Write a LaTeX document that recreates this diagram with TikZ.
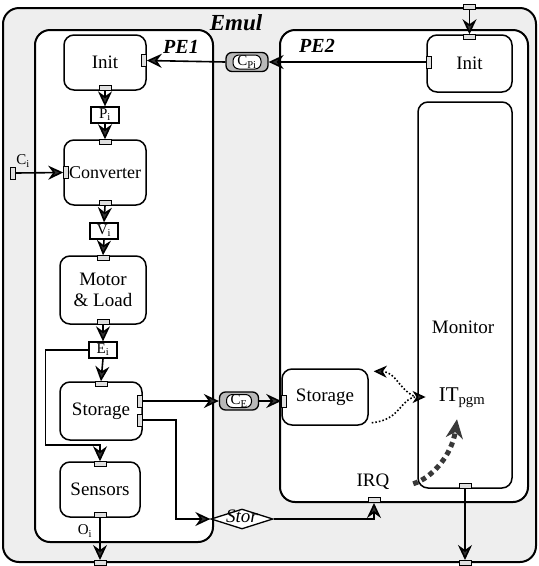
\documentclass[tikz,border=0pt]{standalone}
\usepackage{fontspec}
\setmainfont{Liberation Serif}
\usetikzlibrary{arrows.meta, positioning, shapes.geometric, calc}
\newcommand{\blkfont}{\rmfamily\fontsize{19}{21}\selectfont}
\newcommand{\sigfont}{\rmfamily\fontsize{15}{17}\selectfont}
\tikzset{
  emulbox/.style={rectangle, draw, line width=2pt, rounded corners=16pt, fill=gray!13},
  pe/.style={rectangle, draw, line width=2pt, rounded corners=15pt, fill=white},
  blk/.style={rectangle, draw, line width=1.5pt, rounded corners=10pt, fill=white,
              align=center, font=\blkfont, inner sep=0pt},
  txt/.style={font=\blkfont, inner sep=1pt},
  lbl/.style={font=\rmfamily\bfseries\itshape\fontsize{20}{22}\selectfont, inner sep=0pt},
  port/.style={rectangle, draw, line width=1pt, fill=gray!25, inner sep=0pt,
               minimum width=12pt, minimum height=5pt},
  vport/.style={port, minimum width=5pt, minimum height=12pt},
  sig/.style={rectangle, draw, line width=1.3pt, fill=white, inner sep=1pt,
              minimum width=28pt, minimum height=16pt, font=\sigfont},
  chan/.style={rectangle, draw, line width=1.3pt, rounded corners=6pt, fill=gray!55,
               inner sep=0pt, font=\sigfont,
               path picture={\filldraw[fill=white, line width=1pt]
                 ($(path picture bounding box.south west)+(7pt,2.5pt)$) rectangle
                 ($(path picture bounding box.north east)+(-7pt,-2.5pt)$);}},
  arr/.style={-{Stealth[length=15pt, width=14pt, inset=5pt, fill=gray!40!black]}, line width=1.6pt},
  dotarr/.style={-{Stealth[length=13pt, width=12pt, inset=4pt, fill=gray!40!black]}, line width=1.6pt,
                 dash pattern=on 1.6pt off 2pt},
  bigdot/.style={-{Stealth[length=19pt, width=17pt, inset=6pt]}, line width=5pt, gray!45!black,
                 dash pattern=on 5pt off 4pt},
}
\begin{document}
\begin{tikzpicture}[x=1pt, y=-1pt]
  \useasboundingbox (0,0) rectangle (539,566);
  \node[emulbox, minimum width=533pt, minimum height=554pt] (emul) at (269.5,285) {};
  \node[lbl, font=\rmfamily\bfseries\itshape\fontsize{23}{25}\selectfont] (emullbl) at (236,23) {Emul};

  % processing elements
  \node[pe, minimum width=178pt, minimum height=512pt] (pe1) at (124,286) {};
  \node[lbl] (pe1lbl) at (181,47) {PE1};
  \node[pe, minimum width=248pt, minimum height=472pt] (pe2) at (404,266) {};
  \node[lbl] (pe2lbl) at (317,46) {PE2};

  % PE1 blocks
  \node[blk, minimum width=82pt, minimum height=55pt] (init1) at (105,62.5) {Init};
  \node[blk, minimum width=82pt, minimum height=65pt, font=\rmfamily\fontsize{18}{20}\selectfont] (conv) at (105,172.5) {Converter};
  \node[blk, minimum width=86pt, minimum height=68pt] (motor) at (103,290) {Motor\\\& Load};
  \node[blk, minimum width=82pt, minimum height=58pt] (stor1) at (101,411) {Storage};
  \node[blk, minimum width=80pt, minimum height=55pt] (sens) at (100,489.5) {Sensors};

  \node[sig] (pi) at (105,115) {P\textsubscript{i}};
  \node[sig] (vi) at (104,231) {V\textsubscript{i}};
  \node[sig] (ei) at (103,350) {E\textsubscript{i}};

  % PE2 blocks
  \node[blk, minimum width=85pt, minimum height=57pt] (init2) at (469.5,63.5) {Init};
  \node[blk, minimum width=94pt, minimum height=386pt] (monitor) at (465,295) {};
  \node[txt] (monlbl) at ($(monitor.center)+(-2,32)$) {Monitor};
  \node[blk, minimum width=86pt, minimum height=56pt] (stor2) at (325,397) {Storage};
  \node[txt, font=\rmfamily\fontsize{21}{23}\selectfont] (itp) at (462,398) {IT\textsubscript{pgm}};
  \node[txt] (irq) at (373,482) {IRQ};

  % channels
  \node[chan, minimum width=42pt, minimum height=19pt] (cpi) at (247,62) {C\textsubscript{Pi}};
  \node[chan, minimum width=39pt, minimum height=18pt] (ce) at (239,401) {C\textsubscript{E}};
  \node[diamond, draw, line width=1.3pt, fill=white, inner sep=0pt,
        minimum width=62pt, minimum height=20pt] (stor) at (242,519)
        {\raisebox{-0.33em}[0pt][0pt]{\makebox[0pt]{\rmfamily\fontsize{19}{21}\selectfont\itshape Stor}}};

  % ports
  \node[vport, anchor=east] (init1e) at ($(init1.east)+(0,-2)$) {};
  \node[port, anchor=south] (init1s) at (init1.south) {};
  \node[port, anchor=north] (convn) at (conv.north) {};
  \node[vport, anchor=west] (convw) at (conv.west) {};
  \node[port, anchor=south] (convs) at (conv.south) {};
  \node[port, anchor=north] (motorn) at (motor.north) {};
  \node[port, anchor=south] (motors) at (motor.south) {};
  \node[port, anchor=north] (stor1n) at (stor1.north) {};
  \node[vport, anchor=east] (stor1a) at ($(stor1.east)+(0,-10)$) {};
  \node[vport, anchor=east] (stor1b) at ($(stor1.east)+(0,9)$) {};
  \node[port, anchor=north] (sensn) at (sens.north) {};
  \node[port, anchor=south] (senss) at (sens.south) {};
  \node[port, anchor=north] (init2n) at (init2.north) {};
  \node[vport, anchor=west] (init2w) at ($(init2.west)+(0,-1.5)$) {};
  \node[vport, anchor=west] (stor2w) at ($(stor2.west)+(0,4)$) {};
  \node[port, anchor=south] (monitors) at (monitor.south) {};
  \node[port, anchor=south] (irqp) at ($(pe2.south)+(-30,0)$) {};
  \node[vport] (cip) at (13,173) {};
  \node[port] (emult) at (init2n |- emul.north) {};
  \node[port] (emulo) at (senss |- emul.south) {};
  \node[port] (emulm) at (monitors |- emul.south) {};
  \node[txt, font=\sigfont] (cilbl) at (23,161) {C\textsubscript{i}};
  \node[txt, font=\sigfont] (oilbl) at (85,531) {O\textsubscript{i}};

  % data flow
  \draw[arr] (emult.south) -- (init2n.north);
  \draw[arr] (init2w.west) -- (cpi.east);
  \draw[arr] (cpi.west) -- (init1e.east);
  \draw[arr] (init1s.south) -- (pi.north);
  \draw[arr] (pi.south) -- (convn.north);
  \draw[arr] (cip.east) -- (convw.west);
  \draw[arr] (convs.south) -- (vi.north);
  \draw[arr] (vi.south) -- (motorn.north);
  \draw[arr] (motors.south) -- (ei.north);
  \draw[arr] (ei.south) -- (stor1n.north);
  \draw[arr] (ei.west) -- ++(-43,0) |- ($(sensn.north)+(0,-16)$) -- (sensn.north);
  \draw[arr] (stor1a.east) -- (ce.west);
  \draw[arr] (ce.east) -- (stor2w.west);
  \draw[arr] (stor1b.east) -- ++(33,0) |- (stor.west);
  \draw[arr] (stor.east) -| (irqp.south);
  \draw[arr] (senss.south) -- (emulo.north);
  \draw[arr] (monitors.south) -- (emulm.north);

  % interrupt handling
  \draw[dotarr] ($(itp.west)+(-24,-2)$) .. controls (398,388) and (396,372) .. ($(stor2.north east)+(5,3)$);
  \draw[dotarr] ($(stor2.south east)+(3,-3)$) .. controls (402,420) and (400,397) .. ($(itp.west)+(-12,-1)$);
  \draw[bigdot] ($(monitor.south west)+(-4,-5)$) .. controls (432,478) and (452,455) .. ($(itp.south)+(-5,10)$);
\end{tikzpicture}
\end{document}
